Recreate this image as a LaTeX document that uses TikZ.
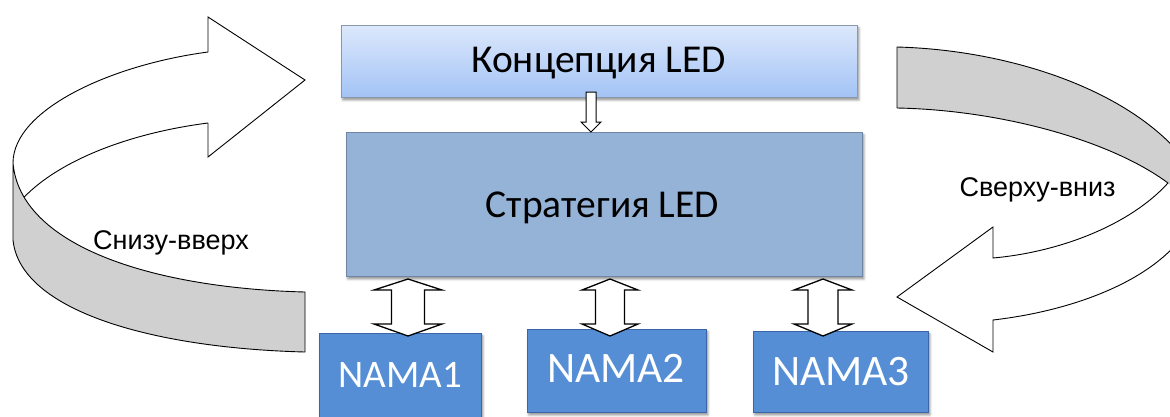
\documentclass[tikz,border=0pt]{standalone}
\usepackage{fontspec}
\newfontfamily\calib{Carlito}
\newfontfamily\arialf{Liberation Sans}
\usetikzlibrary{shadows.blur}
\definecolor{conctop}{HTML}{DCE8FC}
\definecolor{concbot}{HTML}{A3C3F5}
\definecolor{concline}{HTML}{8A98AA}
\definecolor{stratfill}{HTML}{95B3D7}
\definecolor{stratline}{HTML}{6F85A3}
\definecolor{namafill}{HTML}{558ED5}
\definecolor{namaline}{HTML}{3A66A8}
\definecolor{bandgray}{HTML}{D0D0D0}
\newcommand\myvarrow[7]{%
  \draw[blockarrow] (#1,#4) -- (#1+#2,#5) -- (#1+#3,#5) -- (#1+#3,#6) -- (#1+#2,#6) -- (#1,#7)
    -- (#1-#2,#6) -- (#1-#3,#6) -- (#1-#3,#5) -- (#1-#2,#5) -- cycle;}
\begin{document}
\begin{tikzpicture}[x=1pt,y=-1pt,line join=miter,
  boxshadow/.style={blur shadow={shadow xshift=1.5pt,shadow yshift=-2.5pt,shadow blur radius=2.5pt,shadow opacity=45}},
  box/.style={draw,rectangle,inner sep=0pt,anchor=north west,boxshadow},
  concbox/.style={box,draw=concline,line width=0.8pt,top color=conctop,bottom color=concbot},
  stratbox/.style={box,draw=stratline,line width=0.8pt,fill=stratfill},
  namabox/.style={box,draw=namaline,line width=0.8pt,fill=namafill},
  boxtext/.style={anchor=base,inner sep=0pt,font=\calib\fontsize{39.5}{42}\selectfont},
  namatext/.style={anchor=base,inner sep=0pt,text=white},
  looptext/.style={anchor=base,inner sep=0pt,font=\arialf\fontsize{27}{30}\selectfont},
  blockarrow/.style={draw=black,fill=white,line width=1.3pt},
  ribbon/.style={draw=black,line width=0.9pt}]
\useasboundingbox (0,0) rectangle (1170,416);
\begin{scope}
\clip (0,0) rectangle (1170,416);
% left loop arrow (bottom-up)
\fill[white] (208,52) .. controls (110,65) and (13,110) .. (13,163) -- (24.1,197.2)
  .. controls (60,160) and (130,133) .. (208,123) -- (208,157) -- (305,80) -- (208,17) -- cycle;
\draw[ribbon] (208,123) .. controls (130,133) and (60,160) .. (24.1,197.2);
\draw[ribbon] (208,52) .. controls (110,65) and (13,110) .. (13,163);
\draw[ribbon] (208,123) -- (208,157) -- (305,80) -- (208,17) -- (208,52);
\filldraw[ribbon,fill=bandgray] (13,163) .. controls (20,245) and (150,288) .. (305,292) -- (305,352)
  .. controls (150,348) and (20,310) .. (13,240) -- cycle;
% right loop arrow (top-down)
\fill[bandgray] (897,47) .. controls (1010,50) and (1130,90) .. (1185,160)
  .. controls (1192,172) and (1198,195) .. (1195,215) -- (1168,183)
  .. controls (1110,140) and (1000,110) .. (897,108) -- cycle;
\fill[white] (1168,183) .. controls (1130,225) and (1060,252) .. (993,258) -- (993,227) -- (897,297)
  -- (993,352) -- (993,320) .. controls (1080,310) and (1170,275) .. (1195,215) -- cycle;
\draw[ribbon] (897,108) -- (897,47) .. controls (1010,50) and (1130,90) .. (1185,160)
  .. controls (1192,172) and (1198,195) .. (1195,215)
  .. controls (1170,275) and (1080,310) .. (993,320) -- (993,352) -- (897,297) -- (993,227) -- (993,258)
  .. controls (1060,252) and (1130,225) .. (1168,183)
  .. controls (1110,140) and (1000,110) .. (897,108);
\end{scope}
\node[looptext] (up) at (171,249) {Снизу-вверх};
\node[looptext] (down) at (1037.5,196) {Сверху-вниз};
% boxes
\node[concbox,minimum width=516pt,minimum height=72pt] (conc) at (341,25) {};
\node[stratbox,minimum width=516pt,minimum height=144pt] (strat) at (346,132) {};
\node[boxtext] (conct) at (598.5,72) {Концепция LED};
\node[boxtext] (stratt) at (602.5,217) {Стратегия LED};
% arrow concept -> strategy
\draw[blockarrow,line width=1pt] (586,92) -- (596,92) -- (596,122) -- (601,122) -- (591,132) -- (581,122) -- (586,122) -- cycle;
% NAMA boxes
\node[namabox,minimum width=162pt,minimum height=90pt] (n1) at (319,333) {};
\node[namabox,minimum width=179pt,minimum height=83pt] (n2) at (527,329) {};
\node[namabox,minimum width=175pt,minimum height=81pt] (n3) at (753,331) {};
\node[namatext,font=\calib\fontsize{39}{42}\selectfont] (n1t) at (400.5,387) {NAMA1};
\node[namatext,font=\calib\fontsize{43.5}{46}\selectfont] (n2t) at (616,382) {NAMA2};
\node[namatext,font=\calib\fontsize{43.5}{46}\selectfont] (n3t) at (841,385) {NAMA3};
% double arrows strategy <-> NAMA
\myvarrow{408}{34}{16.5}{279}{290}{324}{336}
\myvarrow{610}{28}{14.5}{279}{290}{324}{336}
\myvarrow{823}{29}{15}{279}{290}{324}{336}
\end{tikzpicture}
\end{document}
